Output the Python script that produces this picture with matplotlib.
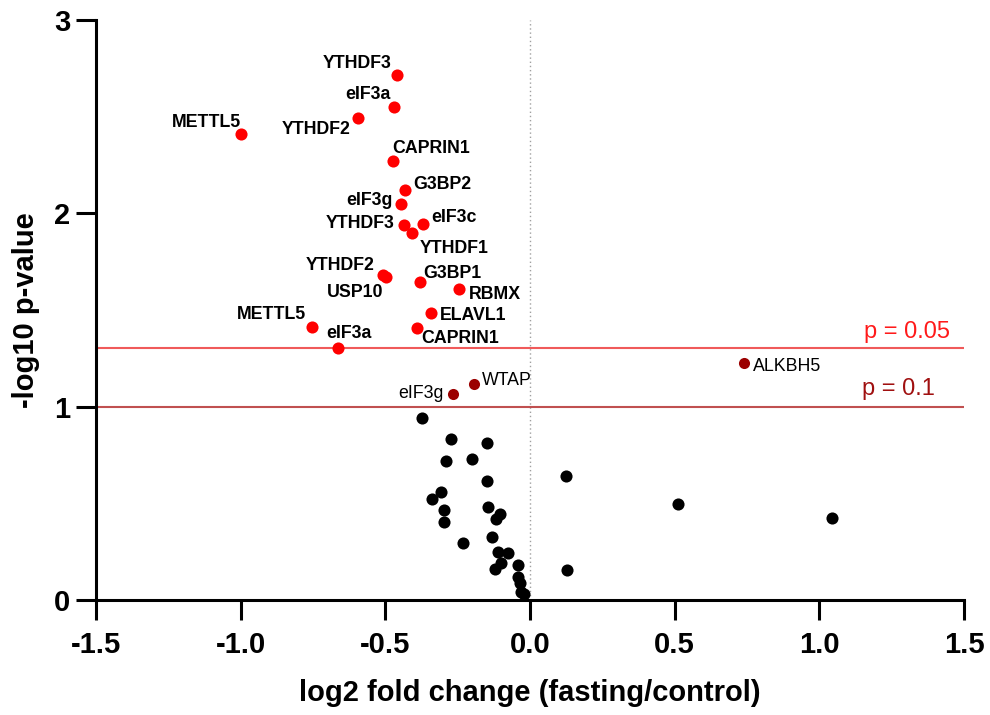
import matplotlib
matplotlib.use("Agg")
import matplotlib.pyplot as plt

plt.rcParams['font.family'] = ['Liberation Sans', 'DejaVu Sans']

# significant (p < 0.05) points
sig_names = ["YTHDF3", "eIF3a", "YTHDF2", "METTL5", "CAPRIN1", "G3BP2", "eIF3g",
             "YTHDF3", "eIF3c", "YTHDF1", "YTHDF2", "USP10", "G3BP1", "RBMX",
             "ELAVL1", "CAPRIN1", "METTL5", "eIF3a"]
sig_x = [-0.459, -0.469, -0.594, -1.000, -0.475, -0.432, -0.445,
         -0.434, -0.369, -0.407, -0.507, -0.496, -0.380, -0.245,
         -0.342, -0.392, -0.752, -0.662]
sig_y = [2.717, 2.550, 2.495, 2.412, 2.273, 2.121, 2.048,
         1.938, 1.943, 1.897, 1.681, 1.669, 1.643, 1.607,
         1.483, 1.409, 1.414, 1.305]

# trend (0.05 < p < 0.1) points
trend_names = ["WTAP", "eIF3g", "ALKBH5"]
trend_x = [-0.194, -0.265, 0.741]
trend_y = [1.116, 1.066, 1.224]

# non-significant points
ns_x = [-0.372, -0.273, -0.150, -0.290, -0.202, -0.148, -0.308, -0.339, -0.296,
        -0.296, -0.146, -0.104, -0.119, -0.132, -0.233, -0.110, -0.077, -0.100,
        -0.121, -0.040, -0.043, -0.035, -0.032, -0.021, 0.124, 0.127, 0.512, 1.045]
ns_y = [0.940, 0.831, 0.810, 0.719, 0.728, 0.616, 0.559, 0.522, 0.466,
        0.405, 0.483, 0.445, 0.417, 0.328, 0.297, 0.250, 0.241, 0.190,
        0.160, 0.181, 0.121, 0.086, 0.043, 0.031, 0.641, 0.155, 0.497, 0.424]

thresholds = [1.30103, 1.0]
threshold_labels = ["p = 0.05", "p = 0.1"]

x_ticks = [-1.5, -1.0, -0.5, 0.0, 0.5, 1.0, 1.5]
y_ticks = [0, 1, 2, 3]

# label placement: (dx px, dy px of baseline below dot, ha)
sig_offsets = [(-6, -6.4, 'right'), (-4, -7.7, 'right'), (-8, 16.3, 'right'),
               (0, -7, 'right'), (0, -7.4, 'left'), (8.3, -0.7, 'left'),
               (-9, 1, 'right'), (-10, 3, 'right'), (8.4, -2.6, 'left'),
               (7.7, 19.4, 'left'), (-9, -5, 'right'), (-3.4, 19.4, 'right'),
               (3.3, -4, 'left'), (9.3, 10, 'left'), (9, 6.7, 'left'),
               (5, 15.6, 'left'), (-6.3, -7.4, 'right'), (-12, -9.4, 'left')]
trend_offsets = [(7.7, 0.7, 'left'), (-10, 4.4, 'right'), (9, 7.7, 'left')]

RED = "#FF0000"
DARK = "#9B0000"

fig = plt.figure(figsize=(9.9, 7.15), dpi=100)
ax = fig.add_axes([96 / 990, 1 - 600 / 715, (964 - 96) / 990, 580 / 715])

ax.axvline(0, ymin=0, ymax=1, color="#A0A0A0", lw=1.0, ls=(0, (1, 2)), zorder=1)
ax.axhline(thresholds[0], color="#F05A5A", lw=1.5, zorder=1)
ax.axhline(thresholds[1], color="#C05050", lw=1.5, zorder=1)
ax.text(1.452, thresholds[0] + 0.055, threshold_labels[0], color="#FF1A1A",
        fontsize=17, ha='right', va='baseline')
ax.text(1.40, thresholds[1] + 0.06, threshold_labels[1], color="#A01010",
        fontsize=17, ha='right', va='baseline')

ax.scatter(ns_x, ns_y, s=76, color="black", linewidths=0, zorder=3, clip_on=False)
ax.scatter(sig_x, sig_y, s=76, color=RED, linewidths=0, zorder=3)
ax.scatter(trend_x, trend_y, s=64, color=DARK, linewidths=0, zorder=3)

for name, x, y, (dx, dy, ha) in zip(sig_names, sig_x, sig_y, sig_offsets):
    ax.annotate(name, (x, y), xytext=(dx * 0.72, -dy * 0.72), textcoords='offset points',
                ha=ha, va='baseline', fontsize=12.8, fontweight='bold', color='black')
for name, x, y, (dx, dy, ha) in zip(trend_names, trend_x, trend_y, trend_offsets):
    ax.annotate(name, (x, y), xytext=(dx * 0.72, -dy * 0.72), textcoords='offset points',
                ha=ha, va='baseline', fontsize=12.8, color='black')

ax.set_xlim(-1.5, 1.5)
ax.set_ylim(0, 3)
ax.set_xticks(x_ticks)
ax.set_xticklabels([f"{v:.1f}" for v in x_ticks])
ax.set_yticks(y_ticks)
ax.set_yticklabels([str(v) for v in y_ticks])
for s in ['top', 'right']:
    ax.spines[s].set_visible(False)
for s in ['left', 'bottom']:
    ax.spines[s].set_linewidth(2.2)
ax.tick_params(axis='both', length=14.4, width=2.2, labelsize=21)
ax.tick_params(axis='x', pad=8)
ax.tick_params(axis='y', pad=4)
for lab in ax.get_xticklabels() + ax.get_yticklabels():
    lab.set_fontweight('bold')

ax.set_xlabel("log2 fold change (fasting/control)", fontsize=21, fontweight='bold', labelpad=14)
ax.set_ylabel("-log10 p-value", fontsize=21, fontweight='bold', labelpad=10)

fig.savefig("out.png", dpi=100)
